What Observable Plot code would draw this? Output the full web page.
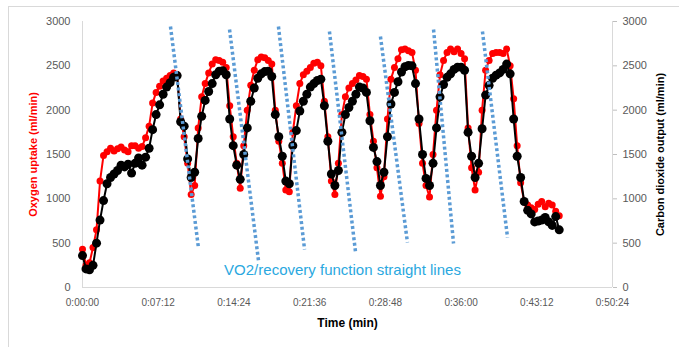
<!DOCTYPE html>
<html><head><meta charset="utf-8">
<script src="https://cdn.jsdelivr.net/npm/d3@7"></script>
<script src="https://cdn.jsdelivr.net/npm/@observablehq/plot@0.6"></script>
<style>
body{margin:0;background:#fff;}
#wrap{position:relative;width:679px;height:347px;overflow:hidden;}
#border{position:absolute;left:8px;top:6px;width:700px;height:400px;border-left:1px solid #d9d9d9;border-top:1px solid #d9d9d9;pointer-events:none;}
</style>
</head><body><div id="wrap"><div id="border"></div></div>
<script>
// time in seconds
const timeSec = [0,20,40,60,80,100,120,140,160,180,200,220,240,260,280,300,320,340,360,380,400,420,440,460,480,500,520,540,560,580,600,620,640,660,680,700,720,740,760,780,800,820,840,860,880,900,920,940,960,980,1000,1020,1040,1060,1080,1100,1120,1140,1160,1180,1200,1220,1240,1260,1280,1300,1320,1340,1360,1380,1400,1420,1440,1460,1480,1500,1520,1540,1560,1580,1600,1620,1640,1660,1680,1700,1720,1740,1760,1780,1800,1820,1840,1860,1880,1900,1920,1940,1960,1980,2000,2020,2040,2060,2080,2100,2120,2140,2160,2180,2200,2220,2240,2260,2280,2300,2320,2340,2360,2380,2400,2420,2440,2460,2480,2500,2520,2540,2560,2580,2600,2620,2640,2660,2680,2700,2720];
// Oxygen uptake (ml/min)
const vo2 = [430,250,280,450,650,1200,1490,1530,1570,1540,1565,1585,1550,1530,1600,1600,1570,1590,1690,1820,2080,2200,2270,2330,2360,2390,2420,2400,
 1900,1700,1400,1050,1150,1800,2150,2300,2420,2520,2570,2560,2540,2480,
 2050,1700,1400,1120,1600,2000,2280,2450,2570,2600,2590,2560,2520,2000,1650,
 1400,1100,1080,1750,2050,2300,2400,2440,2480,2530,2540,2500,2100,1700,
 1200,1050,1400,1950,2150,2250,2300,2340,2390,2380,2350,1950,1650,1350,1030,1250,1900,2350,2480,2580,2680,2690,2670,2650,2450,
 1850,1400,1150,1020,1500,2000,2400,2560,2650,2690,2660,2690,2640,2580,1800,1350,1100,1300,2000,2450,2560,2640,2650,2650,2640,2690,2500,2130,1600,1180,970,930,900,880,940,970,910,950,930,860,810];
// Carbon dioxide output (ml/min)
const vco2 = [360,210,200,250,500,760,980,1170,1240,1280,1320,1380,1360,1390,1290,1400,1460,1380,1470,1570,1780,1950,2060,2180,2260,2310,2370,2390,
 1870,1820,1450,1240,1300,1680,1930,2110,2210,2300,2400,2440,2445,2400,
 1900,1600,1380,1220,1500,1800,2100,2250,2360,2410,2435,2440,2380,1950,1700,
 1480,1200,1170,1600,1770,1990,2100,2180,2260,2300,2335,2350,2050,1650,
 1280,1150,1320,1750,1950,2030,2100,2180,2260,2250,2200,1880,1580,1420,1150,1300,1700,2070,2200,2320,2430,2490,2505,2500,2300,
 1900,1500,1230,1150,1400,1800,2150,2290,2370,2410,2460,2485,2485,2450,1750,1480,1240,1400,1790,2170,2280,2360,2395,2420,2460,2520,2410,1900,1480,1240,970,870,830,740,750,760,790,740,700,800,650];
// VO2/recovery straight lines (start/end in seconds, ml/min)
const lineStartT = [502,839,1118,1409,1700,2003,2282];
const lineStartV = [2944,2910,2944,2888,2831,2910,2888];
const lineEndT = [662,1004,1267,1558,1854,2117,2425];
const lineEndV = [440,305,429,395,508,496,564];
const xTicks = [0,432,864,1296,1728,2160,2592,3024];
const yTicks = [0,500,1000,1500,2000,2500,3000];

const data = timeSec.map((t,i)=>({t, vo2: vo2[i], vco2: vco2[i]}));
const links = lineStartT.map((t,i)=>({x1:t,y1:lineStartV[i],x2:lineEndT[i],y2:lineEndV[i]}));
const fmt = s => { const h=Math.floor(s/3600), m=Math.floor((s%3600)/60), sec=s%60; return `${h}:${String(m).padStart(2,"0")}:${String(sec).padStart(2,"0")}`; };
const yfmt = d => String(d);

const chart = Plot.plot({
  width:679, height:347, marginLeft:82, marginRight:67, marginTop:21, marginBottom:60,
  style:{fontFamily:"'Liberation Sans', Arial, sans-serif", background:"transparent", overflow:"visible"},
  x:{domain:[0,3024]},
  y:{domain:[0,3000]},
  marks:[
    Plot.ruleX([0,3024],{stroke:"#d9d9d9", strokeWidth:1}),
    Plot.ruleY([0],{stroke:"#d9d9d9", strokeWidth:1}),
    Plot.axisY({ticks:yTicks, tickFormat:yfmt, tickSize:0, tickPadding:12, fontSize:11, color:"#595959", label:null}),
    Plot.axisY({anchor:"right", ticks:yTicks, tickFormat:yfmt, tickSize:4, tickPadding:6, fontSize:11, color:"#595959", stroke:"#bfbfbf", label:null}),
    Plot.axisX({ticks:xTicks, tickFormat:fmt, tickSize:0, tickPadding:11, fontSize:10, color:"#595959", label:null}),
    Plot.line(data,{x:"t",y:"vo2",stroke:"#ff0000",strokeWidth:2}),
    Plot.dot(data,{x:"t",y:"vo2",r:3.5,fill:"#ff0000"}),
    Plot.line(data,{x:"t",y:"vco2",stroke:"#000000",strokeWidth:2}),
    Plot.dot(data,{x:"t",y:"vco2",r:4.5,fill:"#000000"}),
    Plot.link(links,{x1:"x1",y1:"y1",x2:"x2",y2:"y2",stroke:"#5b9bd5",strokeWidth:3.5,strokeDasharray:"3,2.6"}),
    Plot.text(["VO2/recovery function straight lines"],{frameAnchor:"bottom", dx:-5, dy:-17, fontSize:15, fill:"#2aa8e0", textAnchor:"middle", lineAnchor:"middle"}),
    Plot.text(["Oxygen uptake (ml/min)"],{frameAnchor:"left", dx:-49, rotate:-90, fontSize:11, fontWeight:"bold", fill:"#ff0000", textAnchor:"middle", lineAnchor:"middle"}),
    Plot.text(["Carbon dioxide output (ml/min)"],{frameAnchor:"right", dx:48, rotate:-90, fontSize:11, fontWeight:"bold", fill:"#000000", textAnchor:"middle", lineAnchor:"middle"}),
    Plot.text(["Time (min)"],{frameAnchor:"bottom", dy:36, fontSize:12, fontWeight:"bold", fill:"#000000", textAnchor:"middle", lineAnchor:"middle"})
  ]
});
chart.style.position="absolute"; chart.style.left="0"; chart.style.top="0";
document.getElementById("wrap").appendChild(chart);
</script>
</body></html>
